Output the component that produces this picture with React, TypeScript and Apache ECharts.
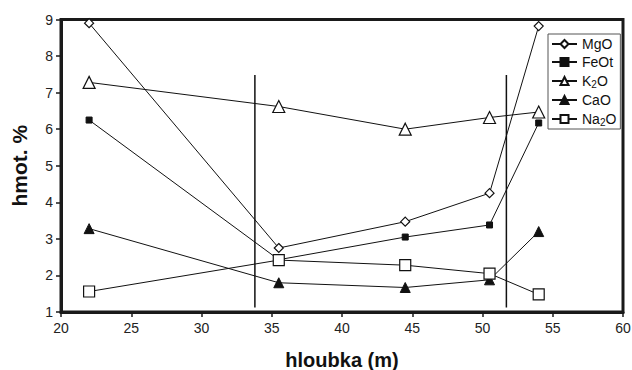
import React, { useEffect, useRef } from "react";
import * as echarts from "echarts";

const depths = [22, 35.5, 44.5, 50.5, 54];
const mgo = [8.9, 2.75, 3.47, 4.25, 8.82];
const feot = [6.25, 2.43, 3.05, 3.38, 6.17];
const k2o = [7.28, 6.62, 6.0, 6.32, 6.47];
const cao = [3.28, 1.8, 1.67, 1.88, 3.2];
const na2o = [1.56, 2.42, 2.28, 2.05, 1.48];
const boundaryDepths = [33.8, 51.7];
const boundaryRange = [1.12, 7.48];

const seriesNames = ["MgO", "FeOt", "K2O", "CaO", "Na2O"];
const legendLabels: Record<string, string> = {
  MgO: "{t|MgO}",
  FeOt: "{t|FeOt}",
  K2O: "{t|K}{s|2}{t|O}",
  CaO: "{t|CaO}",
  Na2O: "{t|Na}{s|2}{t|O}",
};

const pairs = (ys: number[]) => depths.map((d, i) => [d, ys[i]]);

export default function App() {
  const ref = useRef<HTMLDivElement>(null);
  useEffect(() => {
    if (!ref.current) return;
    const chart = echarts.init(ref.current, null, { renderer: "svg" });
    const font = "'Liberation Sans', Arial, sans-serif";
    const mk = (name: string, ys: number[], symbol: string, size: number, filled: boolean) => ({
      name,
      type: "line",
      data: pairs(ys),
      symbol,
      symbolSize: size,
      showAllSymbol: true,
      lineStyle: { color: "#111", width: 1 },
      itemStyle: filled
        ? { color: "#111", borderColor: "#111", borderWidth: 1 }
        : { color: "#fff", borderColor: "#111", borderWidth: 1.2 },
      emphasis: { disabled: true },
      z: 3,
    });
    const vline = (x: number) => ({
      type: "line",
      data: [
        [x, boundaryRange[0]],
        [x, boundaryRange[1]],
      ],
      symbol: "none",
      lineStyle: { color: "#111", width: 1.5 },
      silent: true,
      z: 2,
    });
    chart.setOption({
      animation: false,
      backgroundColor: "#fff",
      textStyle: { fontFamily: font },
      grid: {
        left: 61,
        right: 9,
        top: 19.5,
        bottom: 58,
        containLabel: false,
        outerBoundsMode: "none",
        show: true,
        borderColor: "#1a1a1a",
        borderWidth: 3,
      },
      legend: {
        orient: "vertical",
        left: 548,
        top: 34,
        data: seriesNames,
        backgroundColor: "#fff",
        borderColor: "#555",
        borderWidth: 1,
        padding: [3, 4, 2, 3],
        itemWidth: 25,
        itemHeight: 10,
        itemGap: 4,
        formatter: (n: string) => legendLabels[n],
        textStyle: {
          fontFamily: font,
          color: "#111",
          fontSize: 14,
          rich: {
            t: { fontSize: 14, lineHeight: 16, fontFamily: font, color: "#111" },
            s: { fontSize: 10, lineHeight: 16, fontFamily: font, color: "#111", padding: [6, 0, 0, 0] },
          },
        },
      },
      xAxis: {
        type: "value",
        min: 20,
        max: 60,
        interval: 5,
        name: "hloubka (m)",
        nameLocation: "middle",
        nameGap: 38,
        nameTextStyle: { fontSize: 20, fontWeight: "bold", color: "#111", fontFamily: font },
        axisLine: { show: true, lineStyle: { color: "#1a1a1a", width: 3 } },
        axisTick: { show: true, inside: false, length: 5, lineStyle: { color: "#1a1a1a", width: 1.5 } },
        axisLabel: { fontSize: 14, color: "#222", margin: 9, fontFamily: font },
        splitLine: { show: false },
      },
      yAxis: {
        type: "value",
        min: 1,
        max: 9,
        interval: 1,
        name: "hmot. %",
        nameLocation: "middle",
        nameGap: 31,
        nameRotate: 90,
        nameTextStyle: { fontSize: 21, fontWeight: "bold", color: "#111", fontFamily: font },
        axisLine: { show: true, lineStyle: { color: "#1a1a1a", width: 3 } },
        axisTick: { show: true, inside: false, length: 5, lineStyle: { color: "#1a1a1a", width: 1.5 } },
        axisLabel: { fontSize: 14, color: "#222", margin: 8, fontFamily: font },
        splitLine: { show: false },
      },
      series: [
        vline(boundaryDepths[0]),
        vline(boundaryDepths[1]),
        mk("MgO", mgo, "diamond", 9, false),
        mk("FeOt", feot, "rect", 6, true),
        mk("K2O", k2o, "triangle", 12, false),
        mk("CaO", cao, "triangle", 10, true),
        mk("Na2O", na2o, "rect", 11, false),
      ],
    });
    return () => chart.dispose();
  }, []);
  return (
    <div
      ref={ref}
      style={{ width: 632, height: 370, position: "fixed", left: 0, top: 0 }}
    />
  );
}
